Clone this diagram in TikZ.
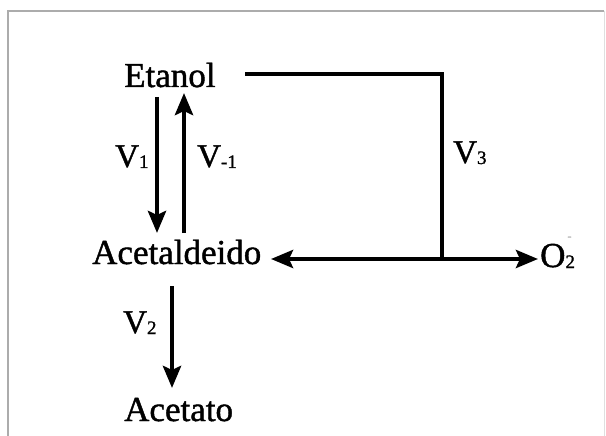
\documentclass[tikz,border=0pt]{standalone}
\usepackage{fontspec}
\setmainfont[FakeBold=1.2]{Liberation Serif}
\usetikzlibrary{arrows.meta}
\newcommand{\subsc}[1]{\raisebox{-1pt}{\fontsize{19}{19}\selectfont #1}}
\begin{document}
\begin{tikzpicture}[x=1pt,y=-1pt,
  lbl/.style={anchor=base west,inner sep=0pt,font=\fontsize{35}{35}\selectfont},
  vlbl/.style={anchor=base west,inner sep=0pt,font=\fontsize{33}{33}\selectfont},
  tip/.tip={Stealth[length=22pt,width=18pt,inset=4pt]},
  arr/.style={line width=4.6pt,-tip},
  conn/.style={line width=4.2pt,line join=miter},
  frame/.style={line width=1.3pt,draw=gray!65}]
\useasboundingbox (0,0) rectangle (606,436);
% frame
\draw[frame] (8,436) -- (8,11) -- (604,11);
\draw[line width=1pt,draw=gray!25] (604,11) -- (604,436);
% texts
\node[lbl] (etanol) at (124,87) {Etanol};
\node[lbl] (acet) at (92,264) {Acetaldeido};
\node[lbl] (acetato) at (124,421) {Acetato};
\node[lbl] (o2) at (540,267) {O\rlap{\subsc{2}}\raisebox{27pt}{\fontsize{12}{12}\selectfont\color{gray!60}\,-}};
\node[vlbl] (v1) at (115,167) {V\subsc{1}};
\node[vlbl] (vm1) at (197,167) {V\subsc{-1}};
\node[vlbl] (v2) at (123,333) {V\subsc{2}};
\node[vlbl] (v3) at (453,163) {V\subsc{3}};
% connector coordinates
\coordinate (a1s) at (157,97);
\coordinate (a1e) at (157,233);
\coordinate (a2s) at (184,233);
\coordinate (a2e) at (184,93);
\coordinate (a3s) at (172,286);
\coordinate (a3e) at (172,388);
\coordinate (l0) at (245,74);
\coordinate (corner) at (442,74);
\coordinate (junc) at (442,259);
\coordinate (lt) at (271,259);
\coordinate (rt) at (538,259);
% arrows
\draw[arr] (a1s) -- (a1e);
\draw[arr] (a2s) -- (a2e);
\draw[arr] (a3s) -- (a3e);
\draw[conn] (l0) -- (corner) -- (junc);
\draw[conn,tip-tip] (lt) -- (rt);
\end{tikzpicture}
\end{document}
